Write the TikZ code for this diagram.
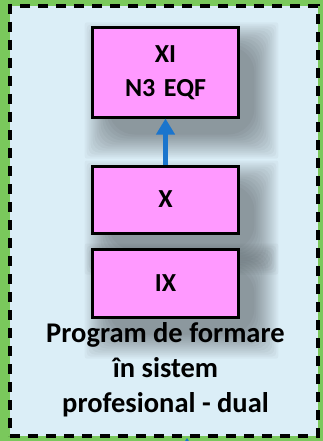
\documentclass[tikz,border=0pt]{standalone}
\usepackage{fontspec}
\setmainfont{Carlito}
\usetikzlibrary{arrows.meta, positioning, calc, backgrounds}

% soft shadow behind a box
\newcommand{\castshadow}[1]{%
  \foreach \r in {2,4,...,26} {
    \fill[black, opacity=0.032, rounded corners=\r pt]
      ($(#1.north west)+(16-24+\r,18-24+\r)$) rectangle ($(#1.south east)+(16+24-\r,18+24-\r)$);
  }%
}

\begin{document}
\begin{tikzpicture}[x=1pt, y=-1pt,
    frame/.style={draw=black, line width=3.5pt, dash pattern=on 10pt off 8pt, fill=framecolor, minimum width=308pt, minimum height=430pt, inner sep=0pt},
    level/.style={rectangle, draw, line width=3pt, fill=levelcolor, minimum width=145pt, text width=140pt, align=center, font=\fontsize{26}{34}\selectfont\bfseries},
    label/.style={align=center, font=\fontsize{28.5}{35}\selectfont\bfseries},
    arrow/.style={-{Triangle[length=16pt, width=18pt]}, line width=4.5pt, draw=arrowcolor}]

    % Define colors
    \definecolor{bgcolor}{RGB}{122,200,92}
    \definecolor{framecolor}{RGB}{219,238,247}
    \definecolor{levelcolor}{RGB}{255,153,255}
    \definecolor{arrowcolor}{RGB}{27,117,205}

    % Nodes
    \node[level, minimum height=89pt] (xi) at (165.5,72.5) {XI\\N3 EQF};
    \node[level, minimum height=67pt, below=46pt of xi] (x) {X};
    \node[level, minimum height=68pt, below=13pt of x] (ix) {IX};
    \node[label] (program) at (165.5,370) {Program de formare\\în sistem\\profesional - dual};
    \coordinate (entry) at (187,460);

    % Background, frame and shadows
    \begin{scope}[on background layer]
        \fill[bgcolor] (0,0) rectangle (323,441);
        \node[frame] (frame) at (164,221) {};
        \castshadow{xi}
        \castshadow{x}
        \castshadow{ix}
    \end{scope}
    \useasboundingbox (0,0) rectangle (323,441);

    % Arrows
    \draw[arrow] (x) -- (xi);
    \draw[arrow] (entry) -- (entry |- frame.south);

\end{tikzpicture}
\end{document}
